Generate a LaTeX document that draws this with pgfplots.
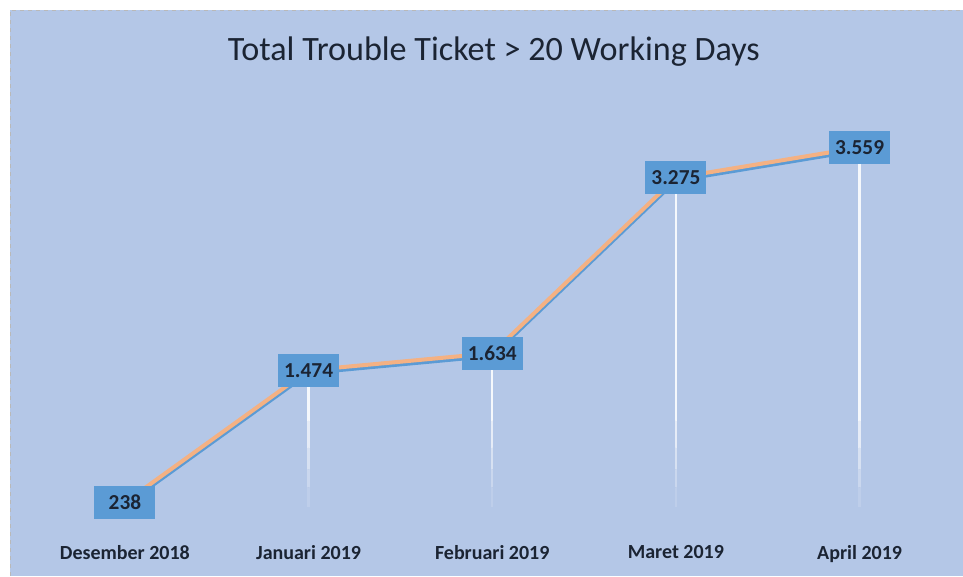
\documentclass[border=0pt]{standalone}
\usepackage{pgfplots}
\pgfplotsset{compat=1.18}
\usepackage{fontspec}
\setmainfont{Carlito}
\definecolor{bg}{HTML}{B4C7E7}
\definecolor{lblue}{HTML}{5B9BD5}
\definecolor{lorange}{HTML}{F4B183}
\definecolor{txt}{HTML}{1B2433}
\pgfplotsset{dropseg/.style={only marks, mark size=0pt, mark options={draw=none, fill=none}, forget plot,
  error bars/.cd, y dir=minus, y explicit, error mark=none,
  error bar style={draw=white, line width=1.7pt, opacity=#1}}}
\begin{document}
\begin{tikzpicture}[x=0.75pt,y=0.75pt]
\fill[white] (0,0) rectangle (963,576);
\fill[bg] (10,0) rectangle (963,566);
\draw[gray!55, dashed, line width=0.6pt] (10,0) -- (10,566) -- (963,566);
\node[font=\fontsize{25.6}{30}\selectfont, text=txt] at (494,524) {Total Trouble Ticket > 20 Working Days};
\begin{axis}[at={(24.825pt,36pt)}, anchor=south west, scale only axis,
  width=689.06pt, height=320.7pt,
  xmin=-0.5, xmax=4.5, ymin=0, ymax=4000,
  axis line style={draw=none}, ytick=\empty,
  xtick={0,1,2,3,4},
  xticklabels={Desember 2018, Januari 2019, Februari 2019, Maret 2019, April 2019},
  major tick length=0pt,
  xticklabel style={font=\fontsize{15}{18}\selectfont\bfseries, text=txt},
  xticklabel shift=9.75pt,
  clip=false]
% drop lines (fading in steps)
\addplot[dropseg=0.88] table[x=x, y=y, y error minus=e] {
x y e
1 1474 474
2 1634 634
3 3275 2275
4 3559 2559
};
\addplot[dropseg=0.68] table[x=x, y=y, y error minus=e] {
x y e
1 1000 250
2 1000 250
3 1000 250
4 1000 250
};
\addplot[dropseg=0.48] table[x=x, y=y, y error minus=e] {
x y e
1 750 200
2 750 200
3 750 200
4 750 200
};
\addplot[dropseg=0.3] table[x=x, y=y, y error minus=e] {
x y e
1 550 170
2 550 170
3 550 170
4 550 170
};
\addplot[dropseg=0.14] table[x=x, y=y, y error minus=e] {
x y e
1 380 190
2 380 190
3 380 190
4 380 190
};
% line with blue shadow
\addplot[lblue, line width=3pt, mark=none, yshift=-2pt] coordinates {(0,238) (1,1474) (2,1634) (3,3275) (4,3559)};
\addplot[lorange, line width=3pt, mark=none] coordinates {(0,238) (1,1474) (2,1634) (3,3275) (4,3559)};
% data labels
\addplot[only marks, mark size=0pt, mark options={draw=none, fill=none}, nodes near coords, point meta=explicit symbolic,
  every node near coord/.append style={anchor=center, fill=lblue, text=txt,
    font=\fontsize{16}{18}\selectfont\bfseries, minimum width=45.75pt, minimum height=24.75pt, inner sep=0pt}]
  table[x=x, y=y, meta=l] {
x y l
0 238 238
1 1474 1.474
2 1634 1.634
3 3275 3.275
4 3559 3.559
};
\end{axis}
\end{tikzpicture}
\end{document}
